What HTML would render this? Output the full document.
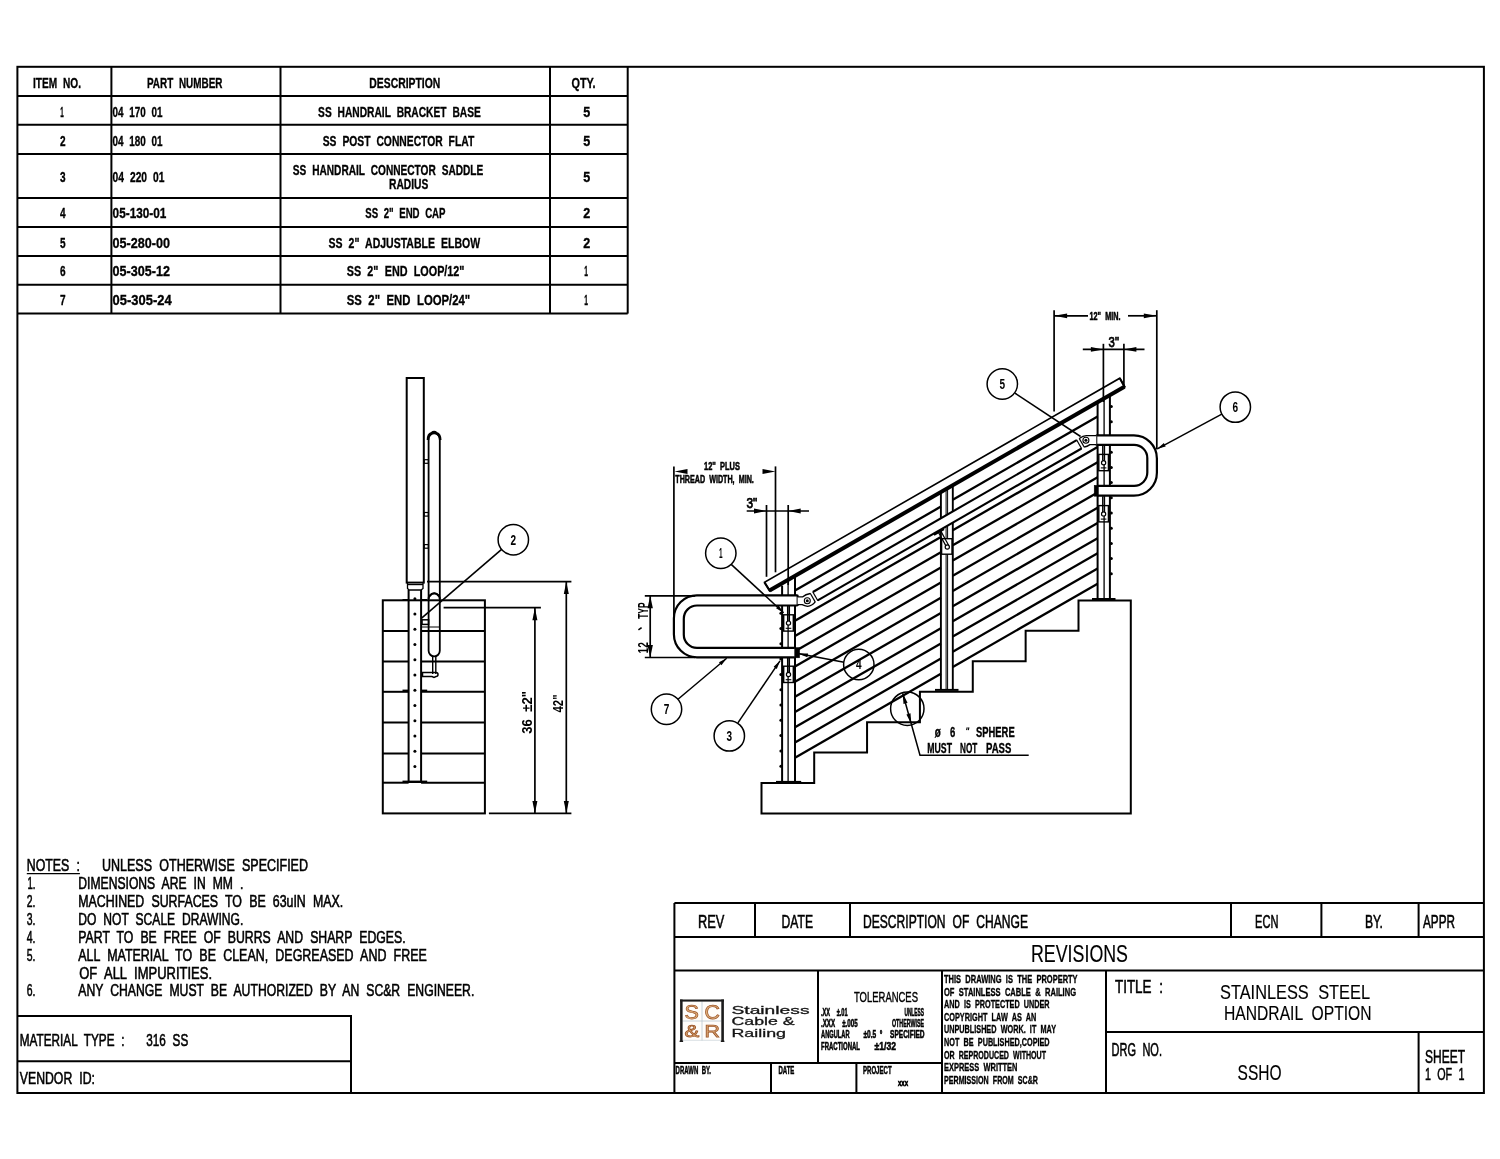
<!DOCTYPE html>
<html><head><meta charset="utf-8"><title>SSHO</title>
<style>html,body{margin:0;padding:0;background:#fff}svg{display:block;will-change:transform}text{font-family:"Liberation Sans",sans-serif}</style>
</head><body>
<svg width="1500" height="1159" viewBox="0 0 1500 1159" font-family="Liberation Sans, sans-serif" stroke="#000" fill="none" stroke-linecap="butt" stroke-linejoin="miter">
<rect x="0" y="0" width="1500" height="1159" fill="#fff" stroke="none"/>
<rect x="17.40" y="66.80" width="1466.50" height="1026.20" stroke-width="2.0" fill="none"/>
<line x1="17.40" y1="95.90" x2="627.70" y2="95.90" stroke-width="2.0" />
<line x1="17.40" y1="124.80" x2="627.70" y2="124.80" stroke-width="2.0" />
<line x1="17.40" y1="154.00" x2="627.70" y2="154.00" stroke-width="2.0" />
<line x1="17.40" y1="198.00" x2="627.70" y2="198.00" stroke-width="2.0" />
<line x1="17.40" y1="227.00" x2="627.70" y2="227.00" stroke-width="2.0" />
<line x1="17.40" y1="255.90" x2="627.70" y2="255.90" stroke-width="2.0" />
<line x1="17.40" y1="284.70" x2="627.70" y2="284.70" stroke-width="2.0" />
<line x1="17.40" y1="313.60" x2="627.70" y2="313.60" stroke-width="2.0" />
<line x1="111.40" y1="66.80" x2="111.40" y2="313.60" stroke-width="2.0" />
<line x1="280.50" y1="66.80" x2="280.50" y2="313.60" stroke-width="2.0" />
<line x1="550.00" y1="66.80" x2="550.00" y2="313.60" stroke-width="2.0" />
<line x1="627.70" y1="66.80" x2="627.70" y2="313.60" stroke-width="2.0" />
<text x="33.00" y="88.00" font-size="15.41" font-weight="bold" text-anchor="start" fill="#000" textLength="48.00" lengthAdjust="spacingAndGlyphs" stroke="#000" stroke-width="0.35" word-spacing="4.62" xml:space="preserve">ITEM NO.</text>
<text x="147.00" y="88.00" font-size="15.41" font-weight="bold" text-anchor="start" fill="#000" textLength="75.40" lengthAdjust="spacingAndGlyphs" stroke="#000" stroke-width="0.35" word-spacing="4.62" xml:space="preserve">PART NUMBER</text>
<text x="369.30" y="88.00" font-size="15.41" font-weight="bold" text-anchor="start" fill="#000" textLength="71.00" lengthAdjust="spacingAndGlyphs" stroke="#000" stroke-width="0.35" word-spacing="4.62" xml:space="preserve">DESCRIPTION</text>
<text x="571.50" y="88.00" font-size="15.41" font-weight="bold" text-anchor="start" fill="#000" textLength="24.10" lengthAdjust="spacingAndGlyphs" stroke="#000" stroke-width="0.35" word-spacing="4.62" xml:space="preserve">QTY.</text>
<text x="60.30" y="117.00" font-size="15.41" font-weight="bold" text-anchor="start" fill="#000" textLength="3.50" lengthAdjust="spacingAndGlyphs" stroke="#000" stroke-width="0.35" word-spacing="4.62" xml:space="preserve">1</text>
<text x="112.60" y="117.00" font-size="15.41" font-weight="bold" text-anchor="start" fill="#000" textLength="49.80" lengthAdjust="spacingAndGlyphs" stroke="#000" stroke-width="0.35" word-spacing="4.62" xml:space="preserve">04 170 01</text>
<text x="318.10" y="117.00" font-size="15.41" font-weight="bold" text-anchor="start" fill="#000" textLength="162.70" lengthAdjust="spacingAndGlyphs" stroke="#000" stroke-width="0.35" word-spacing="4.62" xml:space="preserve">SS HANDRAIL BRACKET BASE</text>
<text x="583.30" y="117.00" font-size="15.41" font-weight="bold" text-anchor="start" fill="#000" textLength="7.00" lengthAdjust="spacingAndGlyphs" stroke="#000" stroke-width="0.35" word-spacing="4.62" xml:space="preserve">5</text>
<text x="59.90" y="146.00" font-size="15.41" font-weight="bold" text-anchor="start" fill="#000" textLength="5.60" lengthAdjust="spacingAndGlyphs" stroke="#000" stroke-width="0.35" word-spacing="4.62" xml:space="preserve">2</text>
<text x="112.60" y="146.00" font-size="15.41" font-weight="bold" text-anchor="start" fill="#000" textLength="50.00" lengthAdjust="spacingAndGlyphs" stroke="#000" stroke-width="0.35" word-spacing="4.62" xml:space="preserve">04 180 01</text>
<text x="322.70" y="146.00" font-size="15.41" font-weight="bold" text-anchor="start" fill="#000" textLength="151.50" lengthAdjust="spacingAndGlyphs" stroke="#000" stroke-width="0.35" word-spacing="4.62" xml:space="preserve">SS POST CONNECTOR FLAT</text>
<text x="583.30" y="146.00" font-size="15.41" font-weight="bold" text-anchor="start" fill="#000" textLength="7.00" lengthAdjust="spacingAndGlyphs" stroke="#000" stroke-width="0.35" word-spacing="4.62" xml:space="preserve">5</text>
<text x="59.90" y="182.00" font-size="15.41" font-weight="bold" text-anchor="start" fill="#000" textLength="5.60" lengthAdjust="spacingAndGlyphs" stroke="#000" stroke-width="0.35" word-spacing="4.62" xml:space="preserve">3</text>
<text x="112.60" y="182.00" font-size="15.41" font-weight="bold" text-anchor="start" fill="#000" textLength="51.80" lengthAdjust="spacingAndGlyphs" stroke="#000" stroke-width="0.35" word-spacing="4.62" xml:space="preserve">04 220 01</text>
<text x="292.80" y="175.20" font-size="15.41" font-weight="bold" text-anchor="start" fill="#000" textLength="190.50" lengthAdjust="spacingAndGlyphs" stroke="#000" stroke-width="0.35" word-spacing="4.62" xml:space="preserve">SS HANDRAIL CONNECTOR SADDLE</text>
<text x="389.00" y="189.30" font-size="15.41" font-weight="bold" text-anchor="start" fill="#000" textLength="39.30" lengthAdjust="spacingAndGlyphs" stroke="#000" stroke-width="0.35" word-spacing="4.62" xml:space="preserve">RADIUS</text>
<text x="583.30" y="182.00" font-size="15.41" font-weight="bold" text-anchor="start" fill="#000" textLength="7.00" lengthAdjust="spacingAndGlyphs" stroke="#000" stroke-width="0.35" word-spacing="4.62" xml:space="preserve">5</text>
<text x="59.90" y="218.40" font-size="15.41" font-weight="bold" text-anchor="start" fill="#000" textLength="5.60" lengthAdjust="spacingAndGlyphs" stroke="#000" stroke-width="0.35" word-spacing="4.62" xml:space="preserve">4</text>
<text x="112.60" y="218.40" font-size="15.41" font-weight="bold" text-anchor="start" fill="#000" textLength="53.80" lengthAdjust="spacingAndGlyphs" stroke="#000" stroke-width="0.35" word-spacing="4.62" xml:space="preserve">05-130-01</text>
<text x="365.30" y="218.40" font-size="15.41" font-weight="bold" text-anchor="start" fill="#000" textLength="80.20" lengthAdjust="spacingAndGlyphs" stroke="#000" stroke-width="0.35" word-spacing="4.62" xml:space="preserve">SS 2" END CAP</text>
<text x="583.30" y="218.40" font-size="15.41" font-weight="bold" text-anchor="start" fill="#000" textLength="7.00" lengthAdjust="spacingAndGlyphs" stroke="#000" stroke-width="0.35" word-spacing="4.62" xml:space="preserve">2</text>
<text x="59.90" y="247.60" font-size="15.41" font-weight="bold" text-anchor="start" fill="#000" textLength="5.60" lengthAdjust="spacingAndGlyphs" stroke="#000" stroke-width="0.35" word-spacing="4.62" xml:space="preserve">5</text>
<text x="112.60" y="247.60" font-size="15.41" font-weight="bold" text-anchor="start" fill="#000" textLength="57.40" lengthAdjust="spacingAndGlyphs" stroke="#000" stroke-width="0.35" word-spacing="4.62" xml:space="preserve">05-280-00</text>
<text x="328.50" y="247.60" font-size="15.41" font-weight="bold" text-anchor="start" fill="#000" textLength="151.60" lengthAdjust="spacingAndGlyphs" stroke="#000" stroke-width="0.35" word-spacing="4.62" xml:space="preserve">SS 2" ADJUSTABLE ELBOW</text>
<text x="583.30" y="247.60" font-size="15.41" font-weight="bold" text-anchor="start" fill="#000" textLength="7.00" lengthAdjust="spacingAndGlyphs" stroke="#000" stroke-width="0.35" word-spacing="4.62" xml:space="preserve">2</text>
<text x="59.90" y="276.40" font-size="15.41" font-weight="bold" text-anchor="start" fill="#000" textLength="5.60" lengthAdjust="spacingAndGlyphs" stroke="#000" stroke-width="0.35" word-spacing="4.62" xml:space="preserve">6</text>
<text x="112.60" y="276.40" font-size="15.41" font-weight="bold" text-anchor="start" fill="#000" textLength="57.40" lengthAdjust="spacingAndGlyphs" stroke="#000" stroke-width="0.35" word-spacing="4.62" xml:space="preserve">05-305-12</text>
<text x="346.70" y="276.40" font-size="15.41" font-weight="bold" text-anchor="start" fill="#000" textLength="117.80" lengthAdjust="spacingAndGlyphs" stroke="#000" stroke-width="0.35" word-spacing="4.62" xml:space="preserve">SS 2" END LOOP/12"</text>
<text x="584.30" y="276.40" font-size="15.41" font-weight="bold" text-anchor="start" fill="#000" textLength="3.70" lengthAdjust="spacingAndGlyphs" stroke="#000" stroke-width="0.35" word-spacing="4.62" xml:space="preserve">1</text>
<text x="59.90" y="305.40" font-size="15.41" font-weight="bold" text-anchor="start" fill="#000" textLength="5.60" lengthAdjust="spacingAndGlyphs" stroke="#000" stroke-width="0.35" word-spacing="4.62" xml:space="preserve">7</text>
<text x="112.60" y="305.40" font-size="15.41" font-weight="bold" text-anchor="start" fill="#000" textLength="59.00" lengthAdjust="spacingAndGlyphs" stroke="#000" stroke-width="0.35" word-spacing="4.62" xml:space="preserve">05-305-24</text>
<text x="346.70" y="305.40" font-size="15.41" font-weight="bold" text-anchor="start" fill="#000" textLength="123.50" lengthAdjust="spacingAndGlyphs" stroke="#000" stroke-width="0.35" word-spacing="4.62" xml:space="preserve">SS 2" END LOOP/24"</text>
<text x="584.30" y="305.40" font-size="15.41" font-weight="bold" text-anchor="start" fill="#000" textLength="3.70" lengthAdjust="spacingAndGlyphs" stroke="#000" stroke-width="0.35" word-spacing="4.62" xml:space="preserve">1</text>
<rect x="382.80" y="600.30" width="102.10" height="213.10" stroke-width="2.0" fill="none"/>
<line x1="382.80" y1="631.00" x2="408.60" y2="631.00" stroke-width="2.0" />
<line x1="421.10" y1="631.00" x2="484.90" y2="631.00" stroke-width="2.0" />
<line x1="382.80" y1="661.50" x2="408.60" y2="661.50" stroke-width="2.0" />
<line x1="421.10" y1="661.50" x2="484.90" y2="661.50" stroke-width="2.0" />
<line x1="382.80" y1="691.80" x2="408.60" y2="691.80" stroke-width="2.0" />
<line x1="421.10" y1="691.80" x2="484.90" y2="691.80" stroke-width="2.0" />
<line x1="382.80" y1="722.50" x2="408.60" y2="722.50" stroke-width="2.0" />
<line x1="421.10" y1="722.50" x2="484.90" y2="722.50" stroke-width="2.0" />
<line x1="382.80" y1="753.50" x2="408.60" y2="753.50" stroke-width="2.0" />
<line x1="421.10" y1="753.50" x2="484.90" y2="753.50" stroke-width="2.0" />
<line x1="382.80" y1="782.70" x2="408.60" y2="782.70" stroke-width="2.0" />
<line x1="421.10" y1="782.70" x2="484.90" y2="782.70" stroke-width="2.0" />
<rect x="406.70" y="378.00" width="17.10" height="204.60" stroke-width="2.0" fill="none"/>
<line x1="407.50" y1="584.60" x2="423.00" y2="584.60" stroke-width="1.2" />
<polyline points="407.50,582.60 407.50,588.50 409.00,590.00 421.00,590.00 423.00,588.50 423.00,582.60" stroke-width="1.3" fill="none"/>
<line x1="408.60" y1="590.00" x2="408.60" y2="781.00" stroke-width="2.0" />
<line x1="421.10" y1="590.00" x2="421.10" y2="781.00" stroke-width="2.0" />
<circle cx="414.90" cy="598.70" r="1.50" stroke-width="0" fill="#000"/>
<circle cx="414.90" cy="613.95" r="1.50" stroke-width="0" fill="#000"/>
<circle cx="414.90" cy="629.20" r="1.50" stroke-width="0" fill="#000"/>
<circle cx="414.90" cy="644.45" r="1.50" stroke-width="0" fill="#000"/>
<circle cx="414.90" cy="659.70" r="1.50" stroke-width="0" fill="#000"/>
<circle cx="414.90" cy="674.95" r="1.50" stroke-width="0" fill="#000"/>
<circle cx="414.90" cy="690.20" r="1.50" stroke-width="0" fill="#000"/>
<circle cx="414.90" cy="705.45" r="1.50" stroke-width="0" fill="#000"/>
<circle cx="414.90" cy="720.70" r="1.50" stroke-width="0" fill="#000"/>
<circle cx="414.90" cy="735.95" r="1.50" stroke-width="0" fill="#000"/>
<circle cx="414.90" cy="751.20" r="1.50" stroke-width="0" fill="#000"/>
<circle cx="414.90" cy="766.45" r="1.50" stroke-width="0" fill="#000"/>
<line x1="402.50" y1="781.80" x2="427.20" y2="781.80" stroke-width="2.4" />
<line x1="402.50" y1="600.00" x2="408.00" y2="600.00" stroke-width="2.0" />
<line x1="421.50" y1="600.00" x2="427.20" y2="600.00" stroke-width="2.0" />
<line x1="402.50" y1="690.60" x2="408.00" y2="690.60" stroke-width="2.0" />
<line x1="421.50" y1="690.60" x2="427.20" y2="690.60" stroke-width="2.0" />
<path d="M428.6,581.5 L428.6,439 A5.6,5.6 0 0 1 439.8,439 L439.8,650.8 A5.6,5.6 0 0 1 428.6,650.8 L428.6,596" stroke-width="1.8" fill="none"/>
<path d="M428.0,440 Q428.0,434 431.5,433.2 Q434.2,431.2 436.5,433.2 Q440.2,434.5 440.2,440" stroke-width="2.6" fill="none"/>
<path d="M428.6,599 A5.6,5.6 0 0 1 439.8,599" stroke-width="1.9" fill="none"/>
<path d="M429.5,596 Q434.2,590.5 439,596" stroke-width="2.0" fill="none"/>
<line x1="428.60" y1="581.50" x2="428.60" y2="596.00" stroke-width="1.8" />
<rect x="424.20" y="459.70" width="4.20" height="3.60" stroke-width="1.2" fill="none"/>
<rect x="424.20" y="512.50" width="4.20" height="3.60" stroke-width="1.2" fill="none"/>
<rect x="424.20" y="544.60" width="4.20" height="3.60" stroke-width="1.2" fill="none"/>
<rect x="422.00" y="619.80" width="6.60" height="4.60" stroke-width="1.5" fill="none"/>
<line x1="422.00" y1="627.00" x2="439.80" y2="627.00" stroke-width="1.0" />
<line x1="432.70" y1="656.40" x2="432.70" y2="674.00" stroke-width="1.4" />
<line x1="435.80" y1="656.40" x2="435.80" y2="674.00" stroke-width="1.4" />
<path d="M422.5,672.6 L436,672.6 Q438,672.6 438,674.6 Q438,676.6 436,676.6 L434,677.5 L432,676.6 L422.5,676.6 Z" stroke-width="1.5" fill="none"/>
<line x1="427.00" y1="581.60" x2="571.40" y2="581.60" stroke-width="1.7" />
<line x1="488.90" y1="813.40" x2="571.40" y2="813.40" stroke-width="1.7" />
<line x1="443.60" y1="607.70" x2="540.90" y2="607.70" stroke-width="1.7" />
<line x1="566.30" y1="581.60" x2="566.30" y2="813.40" stroke-width="1.7" />
<line x1="534.90" y1="607.70" x2="534.90" y2="813.40" stroke-width="1.7" />
<polygon points="566.30,581.60 568.80,594.10 563.80,594.10" fill="#000" stroke="none"/>
<polygon points="566.30,813.40 563.80,800.90 568.80,800.90" fill="#000" stroke="none"/>
<polygon points="534.90,607.70 537.40,620.20 532.40,620.20" fill="#000" stroke="none"/>
<polygon points="534.90,813.40 532.40,800.90 537.40,800.90" fill="#000" stroke="none"/>
<text x="0" y="0" font-size="14.97" font-weight="bold" fill="#000" stroke="none" textLength="42.70" lengthAdjust="spacingAndGlyphs" transform="translate(532.00 733.70) rotate(-90)" xml:space="preserve">36  ±2"</text>
<text x="0" y="0" font-size="14.97" font-weight="bold" fill="#000" stroke="none" textLength="17.90" lengthAdjust="spacingAndGlyphs" transform="translate(563.30 712.40) rotate(-90)" xml:space="preserve">42"</text>
<circle cx="513.30" cy="539.70" r="15.20" stroke-width="1.5" fill="none"/>
<text x="510.60" y="544.60" font-size="13.81" font-weight="bold" text-anchor="start" fill="#000" textLength="5.60" lengthAdjust="spacingAndGlyphs" stroke="none" word-spacing="4.14" xml:space="preserve">2</text>
<line x1="501.60" y1="549.40" x2="421.60" y2="618.20" stroke-width="1.6" />
<polygon points="761.50,783.10 761.50,813.40 1130.80,813.40 1130.80,600.42 1078.50,600.42 1078.50,630.85 1025.64,630.85 1025.64,661.28 972.78,661.28 972.78,691.71 919.92,691.71 919.92,722.14 867.06,722.14 867.06,752.57 814.20,752.57 814.20,783.00" stroke-width="2.0" fill="none"/>
<line x1="795.00" y1="590.44" x2="940.90" y2="506.60" stroke-width="2.3" />
<line x1="952.80" y1="499.76" x2="1097.60" y2="416.54" stroke-width="2.3" />
<line x1="795.00" y1="620.84" x2="940.90" y2="537.00" stroke-width="2.3" />
<line x1="952.80" y1="530.16" x2="1097.60" y2="446.94" stroke-width="2.3" />
<line x1="795.00" y1="636.04" x2="940.90" y2="552.20" stroke-width="2.3" />
<line x1="952.80" y1="545.36" x2="1097.60" y2="462.14" stroke-width="2.3" />
<line x1="795.00" y1="651.24" x2="940.90" y2="567.40" stroke-width="2.3" />
<line x1="952.80" y1="560.56" x2="1097.60" y2="477.34" stroke-width="2.3" />
<line x1="795.00" y1="666.44" x2="940.90" y2="582.60" stroke-width="2.3" />
<line x1="952.80" y1="575.76" x2="1097.60" y2="492.54" stroke-width="2.3" />
<line x1="795.00" y1="681.64" x2="940.90" y2="597.80" stroke-width="2.3" />
<line x1="952.80" y1="590.96" x2="1097.60" y2="507.74" stroke-width="2.3" />
<line x1="795.00" y1="696.84" x2="940.90" y2="613.00" stroke-width="2.3" />
<line x1="952.80" y1="606.16" x2="1097.60" y2="522.94" stroke-width="2.3" />
<line x1="795.00" y1="712.04" x2="940.90" y2="628.20" stroke-width="2.3" />
<line x1="952.80" y1="621.36" x2="1097.60" y2="538.14" stroke-width="2.3" />
<line x1="795.00" y1="727.24" x2="940.90" y2="643.40" stroke-width="2.3" />
<line x1="952.80" y1="636.56" x2="1097.60" y2="553.34" stroke-width="2.3" />
<line x1="795.00" y1="742.44" x2="940.90" y2="658.60" stroke-width="2.3" />
<line x1="952.80" y1="651.76" x2="1097.60" y2="568.54" stroke-width="2.3" />
<line x1="795.00" y1="757.64" x2="940.90" y2="673.80" stroke-width="2.3" />
<line x1="952.80" y1="666.96" x2="1097.60" y2="583.74" stroke-width="2.3" />
<polyline points="770.10,591.40 764.50,582.40 1119.80,378.20 1125.00,387.60" stroke-width="1.6" fill="none"/>
<line x1="769.55" y1="590.45" x2="1124.45" y2="386.65" stroke-width="4.0" />
<line x1="764.50" y1="582.40" x2="770.10" y2="591.40" stroke-width="2.0" />
<line x1="1119.80" y1="378.20" x2="1125.00" y2="387.60" stroke-width="2.0" />
<line x1="782.10" y1="585.66" x2="782.10" y2="781.30" stroke-width="2.0" />
<line x1="788.10" y1="580.21" x2="788.10" y2="781.30" stroke-width="1.3" />
<line x1="795.00" y1="576.24" x2="795.00" y2="781.30" stroke-width="2.0" />
<line x1="776.00" y1="781.90" x2="801.20" y2="781.90" stroke-width="2.0" />
<circle cx="780.90" cy="613.20" r="1.50" stroke-width="0" fill="#000"/>
<circle cx="780.90" cy="628.50" r="1.50" stroke-width="0" fill="#000"/>
<circle cx="780.90" cy="643.80" r="1.50" stroke-width="0" fill="#000"/>
<circle cx="780.90" cy="659.10" r="1.50" stroke-width="0" fill="#000"/>
<circle cx="780.90" cy="674.40" r="1.50" stroke-width="0" fill="#000"/>
<circle cx="780.90" cy="689.70" r="1.50" stroke-width="0" fill="#000"/>
<circle cx="780.90" cy="705.00" r="1.50" stroke-width="0" fill="#000"/>
<circle cx="780.90" cy="720.30" r="1.50" stroke-width="0" fill="#000"/>
<circle cx="780.90" cy="735.60" r="1.50" stroke-width="0" fill="#000"/>
<circle cx="780.90" cy="750.90" r="1.50" stroke-width="0" fill="#000"/>
<circle cx="780.90" cy="766.20" r="1.50" stroke-width="0" fill="#000"/>
<line x1="1097.60" y1="402.34" x2="1097.60" y2="598.10" stroke-width="2.0" />
<line x1="1104.10" y1="398.61" x2="1104.10" y2="598.10" stroke-width="1.3" />
<line x1="1109.90" y1="395.27" x2="1109.90" y2="598.10" stroke-width="2.0" />
<line x1="1092.00" y1="599.00" x2="1115.50" y2="599.00" stroke-width="2.0" />
<circle cx="1111.30" cy="406.60" r="1.50" stroke-width="0" fill="#000"/>
<circle cx="1111.30" cy="421.80" r="1.50" stroke-width="0" fill="#000"/>
<circle cx="1111.30" cy="452.20" r="1.50" stroke-width="0" fill="#000"/>
<circle cx="1111.30" cy="467.40" r="1.50" stroke-width="0" fill="#000"/>
<circle cx="1111.30" cy="482.60" r="1.50" stroke-width="0" fill="#000"/>
<circle cx="1111.30" cy="497.80" r="1.50" stroke-width="0" fill="#000"/>
<circle cx="1111.30" cy="513.00" r="1.50" stroke-width="0" fill="#000"/>
<circle cx="1111.30" cy="528.20" r="1.50" stroke-width="0" fill="#000"/>
<circle cx="1111.30" cy="543.40" r="1.50" stroke-width="0" fill="#000"/>
<circle cx="1111.30" cy="558.60" r="1.50" stroke-width="0" fill="#000"/>
<circle cx="1111.30" cy="573.80" r="1.50" stroke-width="0" fill="#000"/>
<line x1="940.90" y1="492.40" x2="940.90" y2="518.50" stroke-width="1.9" />
<line x1="940.90" y1="529.60" x2="940.90" y2="689.00" stroke-width="1.9" />
<line x1="946.10" y1="489.41" x2="946.10" y2="515.51" stroke-width="1.0" />
<line x1="946.10" y1="526.61" x2="946.10" y2="689.00" stroke-width="1.0" />
<line x1="947.60" y1="488.55" x2="947.60" y2="514.65" stroke-width="1.0" />
<line x1="947.60" y1="525.75" x2="947.60" y2="689.00" stroke-width="1.0" />
<line x1="952.80" y1="485.56" x2="952.80" y2="511.66" stroke-width="1.9" />
<line x1="952.80" y1="522.76" x2="952.80" y2="689.00" stroke-width="1.9" />
<line x1="935.00" y1="689.90" x2="958.50" y2="689.90" stroke-width="2.0" />
<polygon points="812.86,592.01 1076.72,440.08 1081.55,448.49 817.69,600.42" stroke-width="0" fill="#fff"/>
<line x1="812.86" y1="592.01" x2="1076.72" y2="440.08" stroke-width="2.1" />
<line x1="817.69" y1="600.42" x2="1081.55" y2="448.49" stroke-width="2.1" />
<path d="M797.6,595.3 L696.9,595.3 A23.0,23.0 0 0 0 673.9,618.3 L673.9,634.3 A23.0,23.0 0 0 0 696.9,657.3 L794.8,657.3 L794.8,647.9 L697.0,647.9 A13.2,13.2 0 0 1 683.8,634.6999999999999 L683.8,618.7 A13.2,13.2 0 0 1 697.0,605.5 L797.6,605.5 Z" stroke-width="0" fill="#fff"/>
<path d="M797.6,595.3 L696.9,595.3 A23.0,23.0 0 0 0 673.9,618.3 L673.9,634.3 A23.0,23.0 0 0 0 696.9,657.3 L794.8,657.3" stroke-width="2.2" fill="none"/>
<path d="M797.6,605.5 L697.0,605.5 A13.2,13.2 0 0 0 683.8,618.7 L683.8,634.6999999999999 A13.2,13.2 0 0 0 697.0,647.9 L794.8,647.9" stroke-width="2.2" fill="none"/>
<line x1="797.60" y1="594.80" x2="797.60" y2="606.00" stroke-width="2.0" />
<rect x="794.80" y="647.60" width="4.80" height="10.20" stroke-width="0.5" fill="#000"/>
<path d="M797.6,596.9 L802.5,596.9 Q805.5,594.2 810.3,593.5 L815.2,601.9 Q812,606 807.6,606.3 Q804.5,605.8 802.2,604.6 L797.6,604.6 Z" stroke-width="0" fill="#fff"/>
<path d="M797.6,596.9 L802.5,596.9 Q805.5,594.2 810.3,593.5" stroke-width="1.3" fill="none"/>
<path d="M815.2,601.9 Q812,606 807.6,606.3 Q804.5,605.8 802.2,604.6 L797.6,604.6" stroke-width="1.3" fill="none"/>
<circle cx="807.30" cy="600.80" r="3.00" stroke-width="1.1" fill="none"/>
<circle cx="807.30" cy="600.80" r="1.50" stroke-width="0" fill="#000"/>
<line x1="810.20" y1="593.20" x2="815.33" y2="602.13" stroke-width="1.2" />
<line x1="812.71" y1="591.75" x2="817.84" y2="600.68" stroke-width="1.2" />
<path d="M1096.3,435.4 L1133.9,435.4 A23.0,23.0 0 0 1 1156.9,458.4 L1156.9,472.7 A23.0,23.0 0 0 1 1133.9,495.7 L1098,495.7 L1098,485.8 L1134.1000000000001,485.8 A13.2,13.2 0 0 0 1147.3000000000002,472.6 L1147.3000000000002,458.0 A13.2,13.2 0 0 0 1134.1000000000001,444.8 L1096.3,444.8 Z" stroke-width="0" fill="#fff"/>
<path d="M1096.3,435.4 L1133.9,435.4 A23.0,23.0 0 0 1 1156.9,458.4 L1156.9,472.7 A23.0,23.0 0 0 1 1133.9,495.7 L1098,495.7" stroke-width="2.2" fill="none"/>
<path d="M1096.3,444.8 L1134.1000000000001,444.8 A13.2,13.2 0 0 1 1147.3000000000002,458.0 L1147.3000000000002,472.6 A13.2,13.2 0 0 1 1134.1000000000001,485.8 L1098,485.8" stroke-width="2.2" fill="none"/>
<line x1="1096.30" y1="434.90" x2="1096.30" y2="445.30" stroke-width="2.0" />
<rect x="1094.20" y="485.30" width="4.20" height="10.90" stroke-width="0.5" fill="#000"/>
<path d="M1096.3,435.6 L1087,435.6 Q1083.5,435.2 1079.3,438.6 L1084.2,447.0 Q1087,446.6 1090,444.6 L1096.3,444.6 Z" stroke-width="0" fill="#fff"/>
<path d="M1096.3,435.6 L1087,435.6 Q1083.5,435.2 1079.3,438.6" stroke-width="1.3" fill="none"/>
<path d="M1084.2,447.0 Q1087,446.6 1090,444.6 L1096.3,444.6" stroke-width="1.3" fill="none"/>
<circle cx="1085.90" cy="440.20" r="3.00" stroke-width="1.1" fill="none"/>
<circle cx="1085.90" cy="440.20" r="1.50" stroke-width="0" fill="#000"/>
<line x1="1079.17" y1="438.33" x2="1084.30" y2="447.26" stroke-width="1.2" />
<line x1="1076.57" y1="439.82" x2="1081.70" y2="448.75" stroke-width="1.2" />
<rect x="783.70" y="614.80" width="9.60" height="16.30" stroke-width="1.4" fill="none"/>
<line x1="787.50" y1="606.00" x2="787.50" y2="621.10" stroke-width="1.1" />
<line x1="789.50" y1="606.00" x2="789.50" y2="621.10" stroke-width="1.1" />
<circle cx="788.50" cy="623.10" r="2.10" stroke-width="1.2" fill="#fff"/>
<line x1="785.70" y1="628.30" x2="791.30" y2="628.30" stroke-width="1.1" />
<rect x="783.70" y="666.20" width="9.60" height="16.30" stroke-width="1.4" fill="none"/>
<line x1="787.50" y1="658.00" x2="787.50" y2="672.50" stroke-width="1.1" />
<line x1="789.50" y1="658.00" x2="789.50" y2="672.50" stroke-width="1.1" />
<circle cx="788.50" cy="674.50" r="2.10" stroke-width="1.2" fill="#fff"/>
<line x1="785.70" y1="679.70" x2="791.30" y2="679.70" stroke-width="1.1" />
<rect x="1098.80" y="454.40" width="9.60" height="16.30" stroke-width="1.4" fill="none"/>
<line x1="1102.60" y1="445.30" x2="1102.60" y2="460.70" stroke-width="1.1" />
<line x1="1104.60" y1="445.30" x2="1104.60" y2="460.70" stroke-width="1.1" />
<circle cx="1103.60" cy="462.70" r="2.10" stroke-width="1.2" fill="#fff"/>
<line x1="1100.80" y1="467.90" x2="1106.40" y2="467.90" stroke-width="1.1" />
<rect x="1098.80" y="505.60" width="9.60" height="16.30" stroke-width="1.4" fill="none"/>
<line x1="1102.60" y1="496.20" x2="1102.60" y2="511.90" stroke-width="1.1" />
<line x1="1104.60" y1="496.20" x2="1104.60" y2="511.90" stroke-width="1.1" />
<circle cx="1103.60" cy="513.90" r="2.10" stroke-width="1.2" fill="#fff"/>
<line x1="1100.80" y1="519.10" x2="1106.40" y2="519.10" stroke-width="1.1" />
<rect x="941.60" y="538.70" width="10.40" height="15.50" stroke-width="1.4" fill="#fff"/>
<line x1="946.20" y1="546.40" x2="938.60" y2="532.60" stroke-width="1.2" />
<line x1="948.60" y1="545.20" x2="941.00" y2="531.40" stroke-width="1.2" />
<circle cx="947.30" cy="547.00" r="2.10" stroke-width="1.2" fill="#fff"/>
<line x1="934.00" y1="535.00" x2="944.00" y2="529.20" stroke-width="2.0" />
<line x1="673.90" y1="466.40" x2="673.90" y2="615.70" stroke-width="1.7" />
<line x1="775.50" y1="466.40" x2="775.50" y2="572.30" stroke-width="1.7" />
<polygon points="674.50,471.50 687.50,469.10 687.50,473.90" fill="#000" stroke="none"/>
<polygon points="775.50,471.50 762.50,473.90 762.50,469.10" fill="#000" stroke="none"/>
<text x="704.00" y="470.30" font-size="11.05" font-weight="bold" text-anchor="start" fill="#000" textLength="35.90" lengthAdjust="spacingAndGlyphs" stroke="#000" stroke-width="0.55" word-spacing="3.31" xml:space="preserve">12" PLUS</text>
<text x="675.30" y="482.60" font-size="11.19" font-weight="bold" text-anchor="start" fill="#000" textLength="78.50" lengthAdjust="spacingAndGlyphs" stroke="#000" stroke-width="0.55" word-spacing="3.36" xml:space="preserve">THREAD WIDTH, MIN.</text>
<line x1="766.50" y1="505.00" x2="766.50" y2="576.80" stroke-width="1.7" />
<line x1="788.20" y1="505.00" x2="788.20" y2="585.00" stroke-width="1.7" />
<line x1="746.70" y1="511.00" x2="809.00" y2="511.00" stroke-width="1.7" />
<polygon points="766.50,511.00 754.00,513.40 754.00,508.60" fill="#000" stroke="none"/>
<polygon points="788.20,511.00 800.70,508.60 800.70,513.40" fill="#000" stroke="none"/>
<text x="746.40" y="508.40" font-size="13.95" font-weight="normal" text-anchor="start" fill="#000" textLength="10.80" lengthAdjust="spacingAndGlyphs" stroke="#000" stroke-width="0.75" word-spacing="4.19" xml:space="preserve">3"</text>
<line x1="644.80" y1="595.90" x2="695.00" y2="595.90" stroke-width="1.7" />
<line x1="644.80" y1="657.50" x2="695.00" y2="657.50" stroke-width="1.7" />
<line x1="650.20" y1="595.90" x2="650.20" y2="657.50" stroke-width="1.7" />
<polygon points="650.20,595.90 652.90,608.30 647.50,608.30" fill="#000" stroke="none"/>
<polygon points="650.20,657.50 647.50,645.10 652.90,645.10" fill="#000" stroke="none"/>
<text x="0" y="0" font-size="14.53" font-weight="bold" fill="#000" stroke="none" textLength="11.30" lengthAdjust="spacingAndGlyphs" transform="translate(647.90 653.40) rotate(-90)" xml:space="preserve">12</text>
<text x="0" y="0" font-size="14.53" font-weight="bold" fill="#000" stroke="none" textLength="16.30" lengthAdjust="spacingAndGlyphs" transform="translate(647.90 618.80) rotate(-90)" xml:space="preserve">TYP</text>
<line x1="638.40" y1="629.90" x2="641.60" y2="627.60" stroke-width="1.6" />
<line x1="1054.10" y1="310.20" x2="1054.10" y2="411.50" stroke-width="1.7" />
<line x1="1156.80" y1="310.20" x2="1156.80" y2="449.30" stroke-width="1.7" />
<line x1="1054.10" y1="315.80" x2="1088.00" y2="315.80" stroke-width="1.7" />
<line x1="1128.00" y1="315.80" x2="1156.80" y2="315.80" stroke-width="1.7" />
<polygon points="1054.10,315.80 1067.10,313.40 1067.10,318.20" fill="#000" stroke="none"/>
<polygon points="1156.80,315.80 1143.80,318.20 1143.80,313.40" fill="#000" stroke="none"/>
<text x="1089.50" y="320.00" font-size="11.34" font-weight="bold" text-anchor="start" fill="#000" textLength="31.00" lengthAdjust="spacingAndGlyphs" stroke="#000" stroke-width="0.55" word-spacing="3.40" xml:space="preserve">12" MIN.</text>
<line x1="1103.40" y1="343.80" x2="1103.40" y2="402.00" stroke-width="1.7" />
<line x1="1123.90" y1="343.80" x2="1123.90" y2="386.50" stroke-width="1.7" />
<line x1="1082.80" y1="349.40" x2="1144.50" y2="349.40" stroke-width="1.7" />
<polygon points="1103.40,349.40 1090.90,351.80 1090.90,347.00" fill="#000" stroke="none"/>
<polygon points="1123.90,349.40 1136.40,347.00 1136.40,351.80" fill="#000" stroke="none"/>
<text x="1108.60" y="347.20" font-size="13.81" font-weight="normal" text-anchor="start" fill="#000" textLength="10.30" lengthAdjust="spacingAndGlyphs" stroke="#000" stroke-width="0.75" word-spacing="4.14" xml:space="preserve">3"</text>
<circle cx="720.80" cy="553.30" r="15.20" stroke-width="1.5" fill="none"/>
<text x="719.00" y="558.20" font-size="13.95" font-weight="bold" text-anchor="start" fill="#000" textLength="3.60" lengthAdjust="spacingAndGlyphs" stroke="none" word-spacing="4.19" xml:space="preserve">1</text>
<line x1="731.20" y1="564.40" x2="783.60" y2="612.70" stroke-width="1.5" />
<polygon points="783.60,612.70 776.06,608.34 778.64,605.54" fill="#000" stroke="none"/>
<circle cx="729.30" cy="735.90" r="15.20" stroke-width="1.5" fill="none"/>
<text x="726.50" y="740.80" font-size="13.95" font-weight="bold" text-anchor="start" fill="#000" textLength="5.60" lengthAdjust="spacingAndGlyphs" stroke="none" word-spacing="4.19" xml:space="preserve">3</text>
<line x1="737.90" y1="722.90" x2="780.00" y2="660.80" stroke-width="1.5" />
<polygon points="780.00,660.80 776.80,668.90 773.66,666.77" fill="#000" stroke="none"/>
<circle cx="858.80" cy="664.50" r="15.20" stroke-width="1.5" fill="none"/>
<text x="856.00" y="669.40" font-size="13.95" font-weight="bold" text-anchor="start" fill="#000" textLength="5.60" lengthAdjust="spacingAndGlyphs" stroke="none" word-spacing="4.19" xml:space="preserve">4</text>
<line x1="844.00" y1="662.30" x2="797.90" y2="653.50" stroke-width="1.5" />
<polygon points="797.90,653.50 808.08,653.51 807.37,657.24" fill="#000" stroke="none"/>
<circle cx="1002.30" cy="384.00" r="15.20" stroke-width="1.5" fill="none"/>
<text x="999.50" y="388.90" font-size="13.95" font-weight="bold" text-anchor="start" fill="#000" textLength="5.60" lengthAdjust="spacingAndGlyphs" stroke="none" word-spacing="4.19" xml:space="preserve">5</text>
<line x1="1014.80" y1="393.00" x2="1080.60" y2="436.50" stroke-width="1.5" />
<circle cx="1235.30" cy="407.10" r="15.20" stroke-width="1.5" fill="none"/>
<text x="1232.50" y="412.00" font-size="13.95" font-weight="bold" text-anchor="start" fill="#000" textLength="5.60" lengthAdjust="spacingAndGlyphs" stroke="none" word-spacing="4.19" xml:space="preserve">6</text>
<line x1="1221.80" y1="414.20" x2="1157.30" y2="448.80" stroke-width="1.5" />
<polygon points="1157.30,448.80 1163.89,443.11 1165.69,446.46" fill="#000" stroke="none"/>
<circle cx="666.50" cy="709.30" r="15.20" stroke-width="1.5" fill="none"/>
<text x="663.70" y="714.20" font-size="13.95" font-weight="bold" text-anchor="start" fill="#000" textLength="5.60" lengthAdjust="spacingAndGlyphs" stroke="none" word-spacing="4.19" xml:space="preserve">7</text>
<line x1="678.00" y1="699.30" x2="726.70" y2="658.20" stroke-width="1.5" />
<polygon points="726.70,658.20 721.43,665.13 718.98,662.23" fill="#000" stroke="none"/>
<circle cx="907.30" cy="708.70" r="16.70" stroke-width="1.5" fill="none"/>
<polyline points="902.70,693.30 911.30,724.00 920.00,755.30 1028.70,755.30" stroke-width="1.5" fill="none"/>
<polygon points="902.70,693.30 907.55,702.84 903.51,703.98" fill="#000" stroke="none"/>
<polygon points="911.30,724.00 906.45,714.46 910.49,713.32" fill="#000" stroke="none"/>
<text x="934.70" y="736.70" font-size="13.95" font-weight="bold" text-anchor="start" fill="#000" textLength="6.00" lengthAdjust="spacingAndGlyphs" stroke="#000" stroke-width="0.35" word-spacing="4.19" xml:space="preserve">ø</text>
<text x="950.00" y="736.70" font-size="13.95" font-weight="bold" text-anchor="start" fill="#000" textLength="5.30" lengthAdjust="spacingAndGlyphs" stroke="#000" stroke-width="0.35" word-spacing="4.19" xml:space="preserve">6</text>
<line x1="967.20" y1="727.40" x2="966.60" y2="730.20" stroke-width="1.1" />
<line x1="968.90" y1="727.40" x2="968.30" y2="730.20" stroke-width="1.1" />
<text x="976.00" y="736.70" font-size="13.95" font-weight="bold" text-anchor="start" fill="#000" textLength="38.70" lengthAdjust="spacingAndGlyphs" stroke="#000" stroke-width="0.35" word-spacing="4.19" xml:space="preserve">SPHERE</text>
<text x="927.30" y="752.70" font-size="13.95" font-weight="bold" text-anchor="start" fill="#000" textLength="24.70" lengthAdjust="spacingAndGlyphs" stroke="#000" stroke-width="0.35" word-spacing="4.19" xml:space="preserve">MUST</text>
<text x="960.00" y="752.70" font-size="13.95" font-weight="bold" text-anchor="start" fill="#000" textLength="17.30" lengthAdjust="spacingAndGlyphs" stroke="#000" stroke-width="0.35" word-spacing="4.19" xml:space="preserve">NOT</text>
<text x="986.00" y="752.70" font-size="13.95" font-weight="bold" text-anchor="start" fill="#000" textLength="25.30" lengthAdjust="spacingAndGlyphs" stroke="#000" stroke-width="0.35" word-spacing="4.19" xml:space="preserve">PASS</text>
<text x="26.80" y="871.40" font-size="17.15" font-weight="normal" text-anchor="start" fill="#000" textLength="53.10" lengthAdjust="spacingAndGlyphs" stroke="#000" stroke-width="0.6" word-spacing="5.15" xml:space="preserve">NOTES :</text>
<line x1="26.80" y1="873.60" x2="79.90" y2="873.60" stroke-width="1.1" />
<text x="102.00" y="871.40" font-size="17.15" font-weight="normal" text-anchor="start" fill="#000" textLength="206.00" lengthAdjust="spacingAndGlyphs" stroke="#000" stroke-width="0.6" word-spacing="5.15" xml:space="preserve">UNLESS OTHERWISE SPECIFIED</text>
<text x="27.50" y="889.40" font-size="17.15" font-weight="normal" text-anchor="start" fill="#000" textLength="8.00" lengthAdjust="spacingAndGlyphs" stroke="#000" stroke-width="0.6" word-spacing="5.15" xml:space="preserve">1.</text>
<text x="78.30" y="889.40" font-size="17.15" font-weight="normal" text-anchor="start" fill="#000" textLength="165.00" lengthAdjust="spacingAndGlyphs" stroke="#000" stroke-width="0.6" word-spacing="5.15" xml:space="preserve">DIMENSIONS ARE IN MM .</text>
<text x="26.80" y="907.40" font-size="17.15" font-weight="normal" text-anchor="start" fill="#000" textLength="8.70" lengthAdjust="spacingAndGlyphs" stroke="#000" stroke-width="0.6" word-spacing="5.15" xml:space="preserve">2.</text>
<text x="78.30" y="907.40" font-size="17.15" font-weight="normal" text-anchor="start" fill="#000" textLength="264.90" lengthAdjust="spacingAndGlyphs" stroke="#000" stroke-width="0.6" word-spacing="5.15" xml:space="preserve">MACHINED SURFACES TO BE 63uIN MAX.</text>
<text x="26.80" y="925.00" font-size="17.15" font-weight="normal" text-anchor="start" fill="#000" textLength="8.70" lengthAdjust="spacingAndGlyphs" stroke="#000" stroke-width="0.6" word-spacing="5.15" xml:space="preserve">3.</text>
<text x="78.30" y="925.00" font-size="17.15" font-weight="normal" text-anchor="start" fill="#000" textLength="165.00" lengthAdjust="spacingAndGlyphs" stroke="#000" stroke-width="0.6" word-spacing="5.15" xml:space="preserve">DO NOT SCALE DRAWING.</text>
<text x="26.80" y="942.90" font-size="17.15" font-weight="normal" text-anchor="start" fill="#000" textLength="8.70" lengthAdjust="spacingAndGlyphs" stroke="#000" stroke-width="0.6" word-spacing="5.15" xml:space="preserve">4.</text>
<text x="78.30" y="942.90" font-size="17.15" font-weight="normal" text-anchor="start" fill="#000" textLength="327.30" lengthAdjust="spacingAndGlyphs" stroke="#000" stroke-width="0.6" word-spacing="5.15" xml:space="preserve">PART TO BE FREE OF BURRS AND SHARP EDGES.</text>
<text x="26.80" y="960.70" font-size="17.15" font-weight="normal" text-anchor="start" fill="#000" textLength="8.70" lengthAdjust="spacingAndGlyphs" stroke="#000" stroke-width="0.6" word-spacing="5.15" xml:space="preserve">5.</text>
<text x="78.30" y="960.70" font-size="17.15" font-weight="normal" text-anchor="start" fill="#000" textLength="348.50" lengthAdjust="spacingAndGlyphs" stroke="#000" stroke-width="0.6" word-spacing="5.15" xml:space="preserve">ALL MATERIAL TO BE CLEAN, DEGREASED AND FREE</text>
<text x="79.20" y="978.50" font-size="17.15" font-weight="normal" text-anchor="start" fill="#000" textLength="132.80" lengthAdjust="spacingAndGlyphs" stroke="#000" stroke-width="0.6" word-spacing="5.15" xml:space="preserve">OF ALL IMPURITIES.</text>
<text x="26.80" y="996.20" font-size="17.15" font-weight="normal" text-anchor="start" fill="#000" textLength="8.70" lengthAdjust="spacingAndGlyphs" stroke="#000" stroke-width="0.6" word-spacing="5.15" xml:space="preserve">6.</text>
<text x="78.30" y="996.20" font-size="17.15" font-weight="normal" text-anchor="start" fill="#000" textLength="396.00" lengthAdjust="spacingAndGlyphs" stroke="#000" stroke-width="0.6" word-spacing="5.15" xml:space="preserve">ANY CHANGE MUST BE AUTHORIZED BY AN SC&amp;R ENGINEER.</text>
<line x1="17.40" y1="1015.90" x2="351.00" y2="1015.90" stroke-width="2.0" />
<line x1="17.40" y1="1061.30" x2="351.00" y2="1061.30" stroke-width="2.0" />
<line x1="351.00" y1="1015.00" x2="351.00" y2="1093.00" stroke-width="2.0" />
<text x="19.80" y="1046.10" font-size="17.15" font-weight="normal" text-anchor="start" fill="#000" textLength="104.80" lengthAdjust="spacingAndGlyphs" stroke="#000" stroke-width="0.6" word-spacing="5.15" xml:space="preserve">MATERIAL TYPE :</text>
<text x="146.30" y="1046.10" font-size="17.15" font-weight="normal" text-anchor="start" fill="#000" textLength="41.90" lengthAdjust="spacingAndGlyphs" stroke="#000" stroke-width="0.6" word-spacing="5.15" xml:space="preserve">316 SS</text>
<text x="19.80" y="1084.10" font-size="17.15" font-weight="normal" text-anchor="start" fill="#000" textLength="75.20" lengthAdjust="spacingAndGlyphs" stroke="#000" stroke-width="0.6" word-spacing="5.15" xml:space="preserve">VENDOR ID:</text>
<line x1="674.40" y1="903.00" x2="1483.90" y2="903.00" stroke-width="2.0" />
<line x1="674.40" y1="903.00" x2="674.40" y2="1093.00" stroke-width="2.0" />
<line x1="674.40" y1="937.00" x2="1483.90" y2="937.00" stroke-width="2.0" />
<line x1="674.40" y1="970.60" x2="1483.90" y2="970.60" stroke-width="2.0" />
<line x1="755.00" y1="903.00" x2="755.00" y2="937.00" stroke-width="2.0" />
<line x1="850.00" y1="903.00" x2="850.00" y2="937.00" stroke-width="2.0" />
<line x1="1231.00" y1="903.00" x2="1231.00" y2="937.00" stroke-width="2.0" />
<line x1="1321.40" y1="903.00" x2="1321.40" y2="937.00" stroke-width="2.0" />
<line x1="1418.60" y1="903.00" x2="1418.60" y2="937.00" stroke-width="2.0" />
<line x1="818.00" y1="970.60" x2="818.00" y2="1063.00" stroke-width="2.0" />
<line x1="942.00" y1="970.60" x2="942.00" y2="1093.00" stroke-width="2.0" />
<line x1="1106.00" y1="970.60" x2="1106.00" y2="1093.00" stroke-width="2.0" />
<line x1="674.40" y1="1063.00" x2="942.00" y2="1063.00" stroke-width="2.0" />
<line x1="771.00" y1="1063.00" x2="771.00" y2="1093.00" stroke-width="2.0" />
<line x1="856.40" y1="1063.00" x2="856.40" y2="1093.00" stroke-width="2.0" />
<line x1="1106.00" y1="1032.00" x2="1483.90" y2="1032.00" stroke-width="2.0" />
<line x1="1418.60" y1="1032.00" x2="1418.60" y2="1093.00" stroke-width="2.0" />
<text x="698.00" y="928.00" font-size="17.73" font-weight="normal" text-anchor="start" fill="#000" textLength="26.40" lengthAdjust="spacingAndGlyphs" stroke="#000" stroke-width="0.55" word-spacing="5.32" xml:space="preserve">REV</text>
<text x="781.60" y="928.00" font-size="17.73" font-weight="normal" text-anchor="start" fill="#000" textLength="31.40" lengthAdjust="spacingAndGlyphs" stroke="#000" stroke-width="0.55" word-spacing="5.32" xml:space="preserve">DATE</text>
<text x="863.00" y="928.00" font-size="17.73" font-weight="normal" text-anchor="start" fill="#000" textLength="165.00" lengthAdjust="spacingAndGlyphs" stroke="#000" stroke-width="0.55" word-spacing="5.32" xml:space="preserve">DESCRIPTION OF CHANGE</text>
<text x="1255.00" y="928.00" font-size="17.73" font-weight="normal" text-anchor="start" fill="#000" textLength="23.40" lengthAdjust="spacingAndGlyphs" stroke="#000" stroke-width="0.55" word-spacing="5.32" xml:space="preserve">ECN</text>
<text x="1365.00" y="928.00" font-size="17.73" font-weight="normal" text-anchor="start" fill="#000" textLength="18.00" lengthAdjust="spacingAndGlyphs" stroke="#000" stroke-width="0.55" word-spacing="5.32" xml:space="preserve">BY.</text>
<text x="1423.00" y="928.00" font-size="17.73" font-weight="normal" text-anchor="start" fill="#000" textLength="32.00" lengthAdjust="spacingAndGlyphs" stroke="#000" stroke-width="0.55" word-spacing="5.32" xml:space="preserve">APPR</text>
<text x="1031.00" y="962.00" font-size="23.26" font-weight="normal" text-anchor="start" fill="#000" textLength="97.00" lengthAdjust="spacingAndGlyphs" stroke="#000" stroke-width="0.15" word-spacing="6.98" xml:space="preserve">REVISIONS</text>
<text x="1115.00" y="993.00" font-size="17.73" font-weight="normal" text-anchor="start" fill="#000" textLength="48.00" lengthAdjust="spacingAndGlyphs" stroke="#000" stroke-width="0.55" word-spacing="5.32" xml:space="preserve">TITLE :</text>
<text x="1111.60" y="1056.00" font-size="17.73" font-weight="normal" text-anchor="start" fill="#000" textLength="50.40" lengthAdjust="spacingAndGlyphs" stroke="#000" stroke-width="0.55" word-spacing="5.32" xml:space="preserve">DRG NO.</text>
<text x="1220.00" y="999.00" font-size="20.64" font-weight="normal" text-anchor="start" fill="#000" textLength="150.00" lengthAdjust="spacingAndGlyphs" stroke="#000" stroke-width="0.15" word-spacing="6.19" xml:space="preserve">STAINLESS STEEL</text>
<text x="1224.00" y="1020.40" font-size="20.93" font-weight="normal" text-anchor="start" fill="#000" textLength="147.60" lengthAdjust="spacingAndGlyphs" stroke="#000" stroke-width="0.15" word-spacing="6.28" xml:space="preserve">HANDRAIL OPTION</text>
<text x="1237.60" y="1080.00" font-size="22.67" font-weight="normal" text-anchor="start" fill="#000" textLength="44.00" lengthAdjust="spacingAndGlyphs" stroke="#000" stroke-width="0.15" word-spacing="6.80" xml:space="preserve">SSHO</text>
<text x="1425.00" y="1063.00" font-size="17.73" font-weight="normal" text-anchor="start" fill="#000" textLength="40.00" lengthAdjust="spacingAndGlyphs" stroke="#000" stroke-width="0.55" word-spacing="5.32" xml:space="preserve">SHEET</text>
<text x="1425.00" y="1080.00" font-size="17.15" font-weight="normal" text-anchor="start" fill="#000" textLength="39.40" lengthAdjust="spacingAndGlyphs" stroke="#000" stroke-width="0.55" word-spacing="5.15" xml:space="preserve">1 OF 1</text>
<text x="854.00" y="1002.00" font-size="13.95" font-weight="normal" text-anchor="start" fill="#000" textLength="64.00" lengthAdjust="spacingAndGlyphs" stroke="#000" stroke-width="0.4" word-spacing="4.19" xml:space="preserve">TOLERANCES</text>
<text x="821.00" y="1015.60" font-size="10.47" font-weight="bold" text-anchor="start" fill="#000" textLength="26.60" lengthAdjust="spacingAndGlyphs" stroke="#000" stroke-width="0.55" word-spacing="3.14" xml:space="preserve">.XX  ±.01</text>
<text x="904.40" y="1015.60" font-size="10.47" font-weight="bold" text-anchor="start" fill="#000" textLength="19.60" lengthAdjust="spacingAndGlyphs" stroke="#000" stroke-width="0.55" word-spacing="3.14" xml:space="preserve">UNLESS</text>
<text x="821.00" y="1027.00" font-size="10.47" font-weight="bold" text-anchor="start" fill="#000" textLength="36.60" lengthAdjust="spacingAndGlyphs" stroke="#000" stroke-width="0.55" word-spacing="3.14" xml:space="preserve">.XXX  ±.005</text>
<text x="892.00" y="1027.00" font-size="10.47" font-weight="bold" text-anchor="start" fill="#000" textLength="32.00" lengthAdjust="spacingAndGlyphs" stroke="#000" stroke-width="0.55" word-spacing="3.14" xml:space="preserve">OTHERWISE</text>
<text x="821.00" y="1038.40" font-size="10.47" font-weight="bold" text-anchor="start" fill="#000" textLength="28.60" lengthAdjust="spacingAndGlyphs" stroke="#000" stroke-width="0.55" word-spacing="3.14" xml:space="preserve">ANGULAR</text>
<text x="863.40" y="1038.40" font-size="10.47" font-weight="bold" text-anchor="start" fill="#000" textLength="61.20" lengthAdjust="spacingAndGlyphs" stroke="#000" stroke-width="0.55" word-spacing="3.14" xml:space="preserve">±0.5 °  SPECIFIED</text>
<text x="821.00" y="1050.00" font-size="10.47" font-weight="bold" text-anchor="start" fill="#000" textLength="39.00" lengthAdjust="spacingAndGlyphs" stroke="#000" stroke-width="0.55" word-spacing="3.14" xml:space="preserve">FRACTIONAL</text>
<text x="874.60" y="1050.00" font-size="10.47" font-weight="bold" text-anchor="start" fill="#000" textLength="21.40" lengthAdjust="spacingAndGlyphs" stroke="#000" stroke-width="0.55" word-spacing="3.14" xml:space="preserve">±1/32</text>
<text x="675.60" y="1074.00" font-size="10.17" font-weight="bold" text-anchor="start" fill="#000" textLength="35.40" lengthAdjust="spacingAndGlyphs" stroke="#000" stroke-width="0.5" word-spacing="3.05" xml:space="preserve">DRAWN BY.</text>
<text x="778.40" y="1074.00" font-size="10.17" font-weight="bold" text-anchor="start" fill="#000" textLength="16.00" lengthAdjust="spacingAndGlyphs" stroke="#000" stroke-width="0.5" word-spacing="3.05" xml:space="preserve">DATE</text>
<text x="863.00" y="1074.00" font-size="10.17" font-weight="bold" text-anchor="start" fill="#000" textLength="28.60" lengthAdjust="spacingAndGlyphs" stroke="#000" stroke-width="0.5" word-spacing="3.05" xml:space="preserve">PROJECT</text>
<text x="898.00" y="1086.00" font-size="6.40" font-weight="bold" text-anchor="start" fill="#000" textLength="10.00" lengthAdjust="spacingAndGlyphs" stroke="#000" stroke-width="0.7" word-spacing="1.92" xml:space="preserve">XXX</text>
<text x="944.00" y="983.00" font-size="11.05" font-weight="bold" text-anchor="start" fill="#000" textLength="133.60" lengthAdjust="spacingAndGlyphs" stroke="#000" stroke-width="0.35" word-spacing="3.31" xml:space="preserve">THIS DRAWING IS THE PROPERTY</text>
<text x="944.00" y="995.62" font-size="11.05" font-weight="bold" text-anchor="start" fill="#000" textLength="132.00" lengthAdjust="spacingAndGlyphs" stroke="#000" stroke-width="0.35" word-spacing="3.31" xml:space="preserve">OF STAINLESS CABLE &amp; RAILING</text>
<text x="944.00" y="1008.24" font-size="11.05" font-weight="bold" text-anchor="start" fill="#000" textLength="105.60" lengthAdjust="spacingAndGlyphs" stroke="#000" stroke-width="0.35" word-spacing="3.31" xml:space="preserve">AND IS PROTECTED UNDER</text>
<text x="944.00" y="1020.86" font-size="11.05" font-weight="bold" text-anchor="start" fill="#000" textLength="92.40" lengthAdjust="spacingAndGlyphs" stroke="#000" stroke-width="0.35" word-spacing="3.31" xml:space="preserve">COPYRIGHT LAW AS AN</text>
<text x="944.00" y="1033.48" font-size="11.05" font-weight="bold" text-anchor="start" fill="#000" textLength="112.00" lengthAdjust="spacingAndGlyphs" stroke="#000" stroke-width="0.35" word-spacing="3.31" xml:space="preserve">UNPUBLISHED WORK. IT MAY</text>
<text x="944.00" y="1046.10" font-size="11.05" font-weight="bold" text-anchor="start" fill="#000" textLength="105.60" lengthAdjust="spacingAndGlyphs" stroke="#000" stroke-width="0.35" word-spacing="3.31" xml:space="preserve">NOT BE PUBLISHED,COPIED</text>
<text x="944.00" y="1058.72" font-size="11.05" font-weight="bold" text-anchor="start" fill="#000" textLength="102.00" lengthAdjust="spacingAndGlyphs" stroke="#000" stroke-width="0.35" word-spacing="3.31" xml:space="preserve">OR REPRODUCED WITHOUT</text>
<text x="944.00" y="1071.34" font-size="11.05" font-weight="bold" text-anchor="start" fill="#000" textLength="73.40" lengthAdjust="spacingAndGlyphs" stroke="#000" stroke-width="0.35" word-spacing="3.31" xml:space="preserve">EXPRESS WRITTEN</text>
<text x="944.00" y="1083.96" font-size="11.05" font-weight="bold" text-anchor="start" fill="#000" textLength="94.00" lengthAdjust="spacingAndGlyphs" stroke="#000" stroke-width="0.35" word-spacing="3.31" xml:space="preserve">PERMISSION FROM SC&amp;R</text>
<g stroke="none">
<rect x="682.6" y="1001.5" width="38.7" height="38.8" fill="#fffdfa"/>
<line x1="702" y1="1001.5" x2="702" y2="1040.6" stroke="#b9c6d0" stroke-width="0.8"/>
<line x1="682.6" y1="1021" x2="721.3" y2="1021" stroke="#b9c6d0" stroke-width="0.8"/>
<line x1="682.6" y1="1040.3" x2="721.3" y2="1040.3" stroke="#c9d2d9" stroke-width="0.7"/>
<rect x="680.0" y="999.5" width="44.0" height="2.1" fill="#1c1c1c"/>
<rect x="680.1" y="999.5" width="2.5" height="42.4" fill="#1c1c1c"/>
<rect x="721.3" y="999.5" width="2.6" height="42.4" fill="#1c1c1c"/>
<rect x="679.6" y="1040.6" width="3.5" height="1.4" fill="#1c1c1c"/><rect x="720.8" y="1040.6" width="3.6" height="1.4" fill="#1c1c1c"/>
</g>
<text x="684.60" y="1019.00" font-size="20.35" font-weight="normal" fill="#e2b27c" stroke="#9c5528" stroke-width="0.75" textLength="14.40" lengthAdjust="spacingAndGlyphs">S</text>
<text x="704.60" y="1019.00" font-size="20.35" font-weight="normal" fill="#e2b27c" stroke="#9c5528" stroke-width="0.75" textLength="15.40" lengthAdjust="spacingAndGlyphs">C</text>
<text x="684.60" y="1036.50" font-size="16.86" font-weight="normal" fill="#e2b27c" stroke="#9c5528" stroke-width="0.75" textLength="14.80" lengthAdjust="spacingAndGlyphs">&amp;</text>
<text x="704.60" y="1036.50" font-size="16.86" font-weight="normal" fill="#e2b27c" stroke="#9c5528" stroke-width="0.75" textLength="15.40" lengthAdjust="spacingAndGlyphs">R</text>
<text x="731.50" y="1013.60" font-size="11.05" font-weight="normal" fill="#151515" stroke="#151515" stroke-width="0.3" textLength="78.00" lengthAdjust="spacingAndGlyphs">Stainless</text>
<text x="731.50" y="1025.10" font-size="11.05" font-weight="normal" fill="#151515" stroke="#151515" stroke-width="0.3" textLength="63.00" lengthAdjust="spacingAndGlyphs">Cable &amp;</text>
<text x="731.50" y="1036.60" font-size="11.05" font-weight="normal" fill="#151515" stroke="#151515" stroke-width="0.3" textLength="54.50" lengthAdjust="spacingAndGlyphs">Railing</text>
</svg>
</body></html>
